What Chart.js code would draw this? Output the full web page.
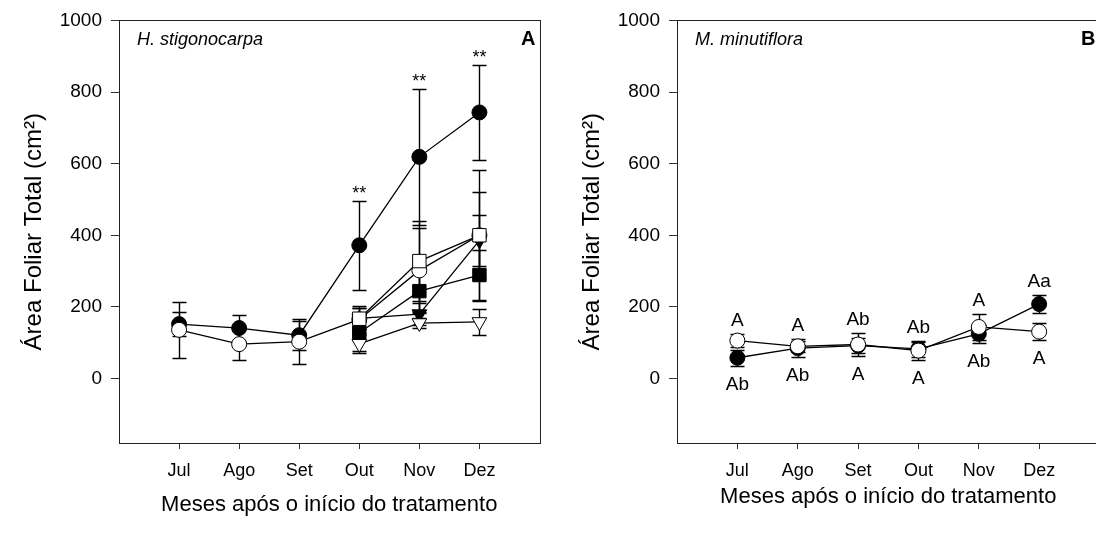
<!DOCTYPE html>
<html><head><meta charset="utf-8">
<script src="https://cdn.jsdelivr.net/npm/chart.js@4"></script>
<style>
html,body{margin:0;padding:0;background:#fff;overflow:hidden;width:1096px;height:533px}
.panel{position:absolute;top:0;width:550px;height:533px}
#pA{left:0}
#pB{left:558px}
</style></head><body>
<div class="panel" id="pA"><canvas id="cA" width="550" height="533"></canvas></div>
<div class="panel" id="pB"><canvas id="cB" width="550" height="533"></canvas></div>
<script>
// ---------- data ----------
const months = ['Jul','Ago','Set','Out','Nov','Dez'];
const yTicks = [0,200,400,600,800,1000];

// Panel A - H. stigonocarpa
const hsFilledCircle    = [152,141,121,372,619,743];
const hsFilledCircleErr = [33,36,40,125,190,132];
const hsOpenCircle      = [136,96,103,165,302,400];
const hsOpenCircleErr   = [78,44,63,38,117,183];
const hsOpenSquare      = [null,null,null,167,328,400];
const hsOpenSquareErr   = [null,null,null,30,111,120];
const hsFilledSquare    = [null,null,null,128,244,289];
const hsFilledSquareErr = [null,null,null,50,60,70];
const hsFilledTriangle  = [null,null,null,168,180,386];
const hsFilledTriangleErr=[null,null,null,30,30,72];
const hsOpenTriangle    = [null,null,null,97,155,158];
const hsOpenTriangleErr = [null,null,null,25,15,36];
const hsSignif          = ['','','','**','**','**'];

// Panel B - M. minutiflora
const mmFilled    = [58,85,92,83,125,208];
const mmFilledErr = [22,25,20,22,25,25];
const mmOpen      = [106,90,95,78,144,131];
const mmOpenErr   = [19,15,32,25,36,24];
const mmAbove     = ['A','A','Ab','Ab','A','Aa'];
const mmBelow     = ['Ab','Ab','A','A','Ab','A'];

// ---------- helpers ----------
const FONT = "'Liberation Sans', Arial, sans-serif";
function pts(vals, errs){
  const out = [];
  vals.forEach((v,i)=>{ if(v!==null) out.push({x:i, y:v, err:errs[i]}); });
  return out;
}
function ds(label, vals, errs, style, filled, order, radius, rot){
  return {
    label, data: pts(vals, errs), order,
    borderColor:'#000', borderWidth:1.3,
    pointStyle: style, pointRadius: radius, pointRotation: rot||0,
    pointBackgroundColor: filled ? '#000' : '#fff',
    pointBorderColor:'#000', pointBorderWidth:1,
    fill:false, tension:0
  };
}

const errorBars = {
  id:'errorBars',
  beforeDatasetsDraw(chart){
    const {ctx, scales:{x,y}} = chart;
    ctx.save();
    ctx.strokeStyle='#000'; ctx.lineWidth=1.4;
    chart.data.datasets.forEach(d=>{
      d.data.forEach(p=>{
        if(p.err==null) return;
        const px = Math.round(x.getPixelForValue(p.x))+0.5;
        const t = Math.round(y.getPixelForValue(p.y+p.err))+0.5;
        const b = Math.round(y.getPixelForValue(p.y-p.err))+0.5;
        ctx.beginPath();
        ctx.moveTo(px,t); ctx.lineTo(px,b);
        ctx.moveTo(px-7,t); ctx.lineTo(px+7,t);
        ctx.moveTo(px-7,b); ctx.lineTo(px+7,b);
        ctx.stroke();
      });
    });
    ctx.restore();
  }
};

function frame(title, letter){
  return {
    id:'frame',
    afterDraw(chart){
      const {ctx, chartArea:a} = chart;
      ctx.save();
      ctx.strokeStyle='#222'; ctx.lineWidth=1;
      ctx.strokeRect(Math.round(a.left)+0.5, Math.round(a.top)+0.5, Math.round(a.right-a.left), Math.round(a.bottom-a.top));
      ctx.fillStyle='#000';
      ctx.textBaseline='middle';
      ctx.textAlign='left';
      ctx.font = "italic 18px " + FONT;
      ctx.fillText(title, a.left+18, a.top+20);
      ctx.font = "bold 20px " + FONT;
      ctx.textAlign='right';
      ctx.fillText(letter, a.right-4, a.top+19);
      ctx.restore();
    }
  };
}

function baseOptions(titleBottomPad){
  return {
    responsive:false, animation:false, devicePixelRatio:1,
    layout:{padding:{top:18,right:8,left:0,bottom:0}},
    plugins:{legend:{display:false}, tooltip:{enabled:false}},
    scales:{
      x:{
        type:'linear', min:-1, max:6,
        afterBuildTicks: s => { s.ticks = months.map((m,i)=>({value:i})); },
        afterFit: s => { s.height = 90; },
        ticks:{callback:v=>months[v], color:'#000', font:{family:FONT, size:18}, padding:11, maxRotation:0, autoSkip:false},
        grid:{display:true, drawOnChartArea:false, drawTicks:true, tickLength:6, color:'#333', lineWidth:1},
        border:{display:true, color:'#222', width:1},
        title:{display:true, text:'Meses após o início do tratamento', color:'#000', font:{family:FONT, size:22}, padding:{top:0,bottom:titleBottomPad}}
      },
      y:{
        type:'linear', min:-180, max:1000,
        afterBuildTicks: s => { s.ticks = yTicks.map(v=>({value:v})); },
        afterFit: s => { s.width = 119; },
        ticks:{callback:v=>String(v), color:'#000', font:{family:FONT, size:19}, padding:9},
        grid:{display:true, drawOnChartArea:false, drawTicks:true, tickLength:8, color:'#333', lineWidth:1},
        border:{display:true, color:'#222', width:1},
        title:{display:true, text:'Área Foliar Total (cm²)', color:'#000', font:{family:FONT, size:24}, padding:{top:20,bottom:0}}
      }
    }
  };
}

// ---------- Panel A ----------
const signifPlugin = {
  id:'signif',
  afterDatasetsDraw(chart){
    const {ctx, scales:{x,y}} = chart;
    ctx.save();
    ctx.fillStyle='#000'; ctx.font="18px "+FONT; ctx.textAlign='center'; ctx.textBaseline='alphabetic';
    hsSignif.forEach((s,i)=>{
      if(!s) return;
      const top = hsFilledCircle[i]+hsFilledCircleErr[i];
      ctx.fillText(s, x.getPixelForValue(i), y.getPixelForValue(top)-2);
    });
    ctx.restore();
  }
};

new Chart(document.getElementById('cA'), {
  type:'line',
  data:{datasets:[
    ds('filled circle', hsFilledCircle, hsFilledCircleErr, 'circle', true, 6, 7.5),
    ds('open circle', hsOpenCircle, hsOpenCircleErr, 'circle', false, 5, 7.5),
    ds('filled triangle', hsFilledTriangle, hsFilledTriangleErr, 'triangle', true, 4, 8.5, 180),
    ds('filled square', hsFilledSquare, hsFilledSquareErr, 'rect', true, 3, 9.5),
    ds('open triangle', hsOpenTriangle, hsOpenTriangleErr, 'triangle', false, 2, 8.5, 180),
    ds('open square', hsOpenSquare, hsOpenSquareErr, 'rect', false, 1, 9.5)
  ]},
  options: baseOptions(15),
  plugins:[errorBars, signifPlugin, frame('H. stigonocarpa','A')]
});

// ---------- Panel B ----------
const lettersPlugin = {
  id:'letters',
  afterDatasetsDraw(chart){
    const {ctx, scales:{x,y}} = chart;
    ctx.save();
    ctx.fillStyle='#000'; ctx.font="19px "+FONT; ctx.textAlign='center'; ctx.textBaseline='middle';
    months.forEach((m,i)=>{
      const hi = Math.max(mmFilled[i]+mmFilledErr[i], mmOpen[i]+mmOpenErr[i]);
      const lo = Math.min(mmFilled[i]-mmFilledErr[i], mmOpen[i]-mmOpenErr[i]);
      const px = x.getPixelForValue(i);
      ctx.fillText(mmAbove[i], px, y.getPixelForValue(hi)-13);
      ctx.fillText(mmBelow[i], px, y.getPixelForValue(lo)+19);
    });
    ctx.restore();
  }
};

new Chart(document.getElementById('cB'), {
  type:'line',
  data:{datasets:[
    ds('filled circle', mmFilled, mmFilledErr, 'circle', true, 2, 7.5),
    ds('open circle', mmOpen, mmOpenErr, 'circle', false, 1, 7.5)
  ]},
  options: baseOptions(23),
  plugins:[errorBars, lettersPlugin, frame('M. minutiflora','B')]
});
</script>
</body></html>
